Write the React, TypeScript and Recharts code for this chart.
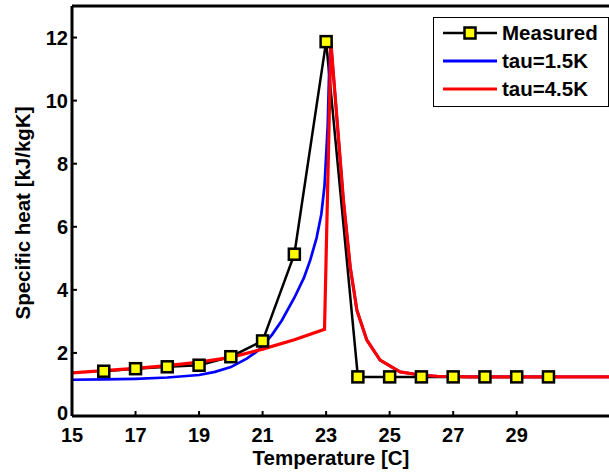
import { ComposedChart, Line, XAxis, YAxis, Legend } from 'recharts';

// measured specific heat
const tempMeasured = [16, 17, 18, 19, 20, 21, 22, 23, 24, 25, 26, 27, 28, 29, 30];
const heatMeasured = [1.42, 1.5, 1.56, 1.61, 1.88, 2.38, 5.13, 11.87, 1.24, 1.24, 1.24, 1.24, 1.24, 1.24, 1.24];

// model, tau = 1.5K
const tempTau15 = [15, 16, 17, 18, 19, 19.5, 20, 20.5, 20.8, 21, 21.3, 21.6, 22, 22.3, 22.5, 22.7, 22.85, 22.95, 23.05, 23.1, 23.15, 23.545, 23.76, 23.97, 24.28, 24.7, 25.33, 25.96, 26.5, 27.5, 32];
const heatTau15 = [1.15, 1.16, 1.18, 1.22, 1.3, 1.4, 1.55, 1.82, 2.03, 2.22, 2.58, 3.02, 3.75, 4.38, 4.94, 5.65, 6.4, 7.3, 9.2, 11.1, 11.85, 6.84, 4.72, 3.35, 2.41, 1.77, 1.4, 1.3, 1.26, 1.24, 1.24];

// model, tau = 4.5K
const tempTau45 = [15, 16, 17, 18, 19, 20, 21, 22, 22.95, 23.15, 23.545, 23.76, 23.97, 24.28, 24.7, 25.33, 25.96, 26.5, 27.5, 32];
const heatTau45 = [1.37, 1.44, 1.51, 1.6, 1.71, 1.86, 2.12, 2.42, 2.75, 11.85, 6.84, 4.72, 3.35, 2.41, 1.77, 1.4, 1.3, 1.26, 1.24, 1.24];

const xTicks = [15, 17, 19, 21, 23, 25, 27, 29];
const yTicks = [0, 2, 4, 6, 8, 10, 12];

const measured = tempMeasured.map((t, i) => ({ t, c: heatMeasured[i] }));
const tau15 = tempTau15.map((t, i) => ({ t, c: heatTau15[i] }));
const tau45 = tempTau45.map((t, i) => ({ t, c: heatTau45[i] }));

const FONT = '"Liberation Sans", Arial, sans-serif';
const tickStyle = { fill: '#000', fontSize: 20, fontWeight: 'bold', fontFamily: FONT };
const labelStyle = { fill: '#000', fontSize: 20.5, fontWeight: 'bold', fontFamily: FONT };

const SquareDot = (props: any) => {
  const { cx, cy, index } = props;
  if (cx == null || cy == null) return <g key={index} />;
  return (
    <rect key={index} x={cx - 5.5} y={cy - 5.5} width={11} height={11} fill="#ffff00" stroke="#000" strokeWidth={2.5} />
  );
};

// y tick label; the "0" sits a bit higher so it clears the "15" below it
const YTick = (props: any) => {
  const { x, y, payload } = props;
  const lift = payload.value === 0 ? 3 : 0;
  return (
    <text x={x} y={y - lift} dy="0.355em" textAnchor="end" style={tickStyle}>
      {payload.value}
    </text>
  );
};

// rotated y label, baseline on the right of the glyphs
const YLabel = () => (
  <text x={30} y={213} transform="rotate(-90, 30, 213)" textAnchor="middle" style={labelStyle}>
    Specific heat [kJ/kgK]
  </text>
);

const XLabel = () => (
  <text x={331} y={465} textAnchor="middle" style={labelStyle}>
    Temperature [C]
  </text>
);

const LegendBox = () => {
  const rows = [
    { name: 'Measured', color: '#000', marker: true },
    { name: 'tau=1.5K', color: '#0000ff', marker: false },
    { name: 'tau=4.5K', color: '#ff0000', marker: false },
  ];
  return (
    <div
      style={{
        width: 174,
        height: 88,
        border: '1px solid #000',
        background: '#fff',
        fontFamily: FONT,
        fontSize: 20.5,
        fontWeight: 'bold',
        boxSizing: 'content-box',
      }}
    >
      {rows.map((r, i) => (
        <div key={r.name} style={{ display: 'flex', alignItems: 'center', height: 28, marginTop: i === 0 ? 1 : 0 }}>
          <svg width={68} height={20} style={{ flex: 'none' }}>
            <line x1={9} x2={63} y1={10} y2={10} stroke={r.color} strokeWidth={r.marker ? 2.5 : 3} />
            {r.marker && <rect x={30.5} y={4.5} width={11} height={11} fill="#ffff00" stroke="#000" strokeWidth={2.5} />}
          </svg>
          <span style={{ color: '#000', lineHeight: '28px' }}>{r.name}</span>
        </div>
      ))}
    </div>
  );
};

export default function App() {
  return (
    <div style={{ position: 'absolute', left: 0, top: 0, width: 609, height: 472, overflow: 'hidden', background: '#fff' }}>
      <ComposedChart width={626} height={472} margin={{ top: 0, right: 14, bottom: 0, left: 0 }}>
        <XAxis
          xAxisId="top"
          orientation="top"
          type="number"
          dataKey="t"
          domain={[15, 32]}
          ticks={xTicks}
          height={6}
          tick={false}
          tickSize={-5}
          axisLine={{ stroke: '#000', strokeWidth: 3 }}
          tickLine={{ stroke: '#000', strokeWidth: 2 }}
          allowDataOverflow
        />
        <XAxis
          xAxisId="bottom"
          type="number"
          dataKey="t"
          domain={[15, 32]}
          ticks={xTicks}
          height={56}
          tickSize={-5}
          tickMargin={17}
          tick={tickStyle}
          axisLine={{ stroke: '#000', strokeWidth: 3 }}
          tickLine={{ stroke: '#000', strokeWidth: 2 }}
          allowDataOverflow
          label={{ content: XLabel }}
        />
        <YAxis
          type="number"
          domain={[0, 13]}
          ticks={yTicks}
          width={72}
          tickSize={-5}
          tickMargin={9}
          tick={YTick}
          axisLine={{ stroke: '#000', strokeWidth: 3 }}
          tickLine={{ stroke: '#000', strokeWidth: 2 }}
          allowDataOverflow
          label={{ content: YLabel }}
        />
        <Legend
          layout="vertical"
          align="center"
          verticalAlign="middle"
          wrapperStyle={{ top: 17, left: 433, width: 176 }}
          content={() => <LegendBox />}
        />
        <Line
          xAxisId="bottom"
          data={measured}
          dataKey="c"
          name="Measured"
          stroke="#000"
          strokeWidth={2.5}
          dot={SquareDot}
          activeDot={false}
          isAnimationActive={false}
        />
        <Line
          xAxisId="bottom"
          data={tau15}
          dataKey="c"
          name="tau=1.5K"
          stroke="#0000ff"
          strokeWidth={2.7}
          dot={false}
          activeDot={false}
          isAnimationActive={false}
        />
        <Line
          xAxisId="bottom"
          data={tau45}
          dataKey="c"
          name="tau=4.5K"
          stroke="#ff0000"
          strokeWidth={3.2}
          dot={false}
          activeDot={false}
          isAnimationActive={false}
        />
      </ComposedChart>
    </div>
  );
}
